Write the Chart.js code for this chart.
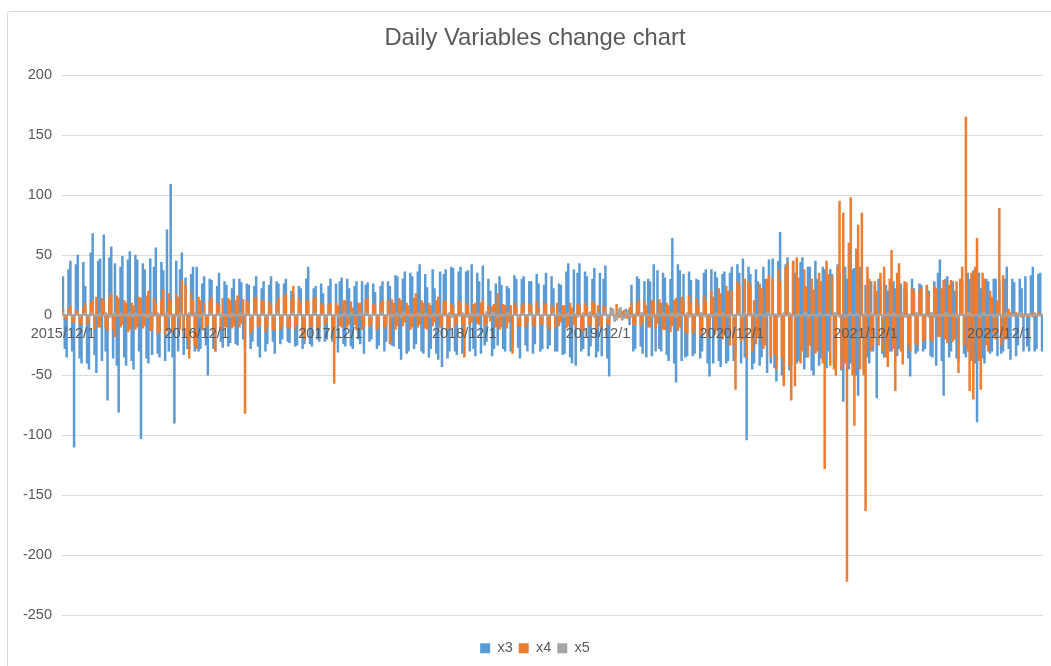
<!DOCTYPE html>
<html><head><meta charset="utf-8">
<script src="https://cdn.jsdelivr.net/npm/chart.js@4.4.1/dist/chart.umd.min.js"></script>
<style>
html,body{margin:0;padding:0;background:#fff;overflow:hidden;width:1051px;height:666px;}
#frame{position:absolute;left:7px;top:11px;width:1056px;height:700px;border:1px solid #d9d9d9;border-radius:3px;}
#c{position:absolute;left:0;top:0;}
</style></head><body>
<div id="frame"></div>
<canvas id="c" width="1071" height="666"></canvas>
<script>
// ---- categories: six sample dates per month (1,6,11,16,21,26), 2015/12 .. 2023/3 ----
const startYear = 2015, startMonth = 12, monthCount = 88;
const sampleDays = [1, 6, 11, 16, 21, 26];
const categories = [];
for (let k = 0; k < monthCount; k++) {
  const y = startYear + Math.floor((startMonth - 1 + k) / 12);
  const m = (startMonth - 1 + k) % 12 + 1;
  for (const d of sampleDays) categories.push(y + '/' + m + '/' + d);
}
const tickLabels = ['2015/12/1','2016/12/1','2017/12/1','2018/12/1','2019/12/1','2020/12/1','2021/12/1','2022/12/1'];
const yTicks = [200,150,100,50,0,-50,-100,-150,-200,-250];

// ===== x3 (blue) =====
// samples on days 1, 11, 21 — one block per Dec..Nov year
const x3_A_2015 = [32,-35,45,-110,50,-40,24,-45,68,-48,47,67,-71,57,43,-81,49,-42,53,-45,46,-103,38,-40,-33,56,-35,37,71,109,-90,-30,52,31,-28,40];
const x3_A_2016 = [40,-28,32,-50,29,-30,35,-27,25,-23,30,-25,27,-28,25,-22,32,-35,28,-24,32,-32,26,-20,30,-23,18,-25,22,-24,40,-26,24,-22,18,-20];
const x3_A_2017 = [30,-24,-31,31,-26,22,-28,28,-24,-32,27,-20,19,-25,28,-22,24,-26,32,-37,36,-30,32,-24,42,-32,23,-28,22,-37,-43,38,-30,39,-33,40];
const x3_A_2018 = [-34,37,42,-34,28,41,-22,20,-28,-25,25,-30,22,-26,30,-36,32,-30,28,-24,26,-28,35,-25,22,-30,25,-32,43,-40,-42,43,-28,32,-26,39];
const x3_A_2019 = [-30,-34,41,-51,5,-4,6,-3,4,25,-28,30,-32,-35,28,42,37,-30,31,-38,64,-56,37,34,-34,29,-32,29,-30,38,-51,-40,31,-43,36,-38];
const x3_A_2020 = [40,-30,35,47,-104,34,-40,28,-35,30,46,47,-55,69,-55,48,-42,35,-38,48,-35,40,-50,30,-36,38,-30,34,-38,35,-72,30,-40,39,-67,26];
const x3_A_2021 = [25,-40,-30,-69,25,-35,20,-30,22,-28,-25,20,-51,22,-30,25,-28,20,-35,-42,46,-67,32,-30,20,-38,28,-35,30,37,-89,22,-40,28,-30,30];
const x3_A_2022 = [28,-30,40,-37,27,-25,22,32,-30,40,-28,35];
// samples on days 6, 16, 26
const x3_B_2015 = [-28,38,-30,42,-36,44,-40,52,-33,45,-38,-30,48,-36,-42,40,-35,46,-38,50,-30,43,-36,47,40,-32,44,-38,-30,-35,45,38,-33,-28,34,-30];
const x3_B_2016 = [-30,26,-25,30,-28,24,-22,28,-26,22,-24,30,-20,26,-28,24,-26,22,-30,25,-22,28,-24,26,-22,20,-26,24,-28,30,-24,22,-20,26,-22,24];
const x3_B_2017 = [-22,26,28,-24,30,-26,24,-20,28,25,-22,26,-28,24,-30,28,-25,33,-28,30,-32,35,-28,36,-30,34,-35,38,-32,36,34,-36,40,-30,36,-32];
const x3_B_2018 = [36,-30,-28,35,-32,-25,30,-34,26,32,-28,24,-30,33,-27,30,-25,28,-32,34,-30,25,-28,32,-30,26,-33,36,-35,38,35,-30,36,-34,30,-35];
const x3_B_2019 = [35,30,-36,6,-5,3,-4,5,-8,-30,32,-26,28,30,-34,-30,-28,35,-33,30,-40,42,-38,-35,36,-34,30,-36,35,-40,38,36,-38,34,-40,35];
const x3_B_2020 = [-38,42,-40,-35,40,-45,38,-42,40,-48,-40,-44,45,-50,42,-46,45,-40,44,-45,40,-46,45,-42,40,-44,38,-40,42,-46,40,-45,38,-50,40,-45];
const x3_B_2021 = [-35,28,24,30,-32,25,-30,28,-34,26,22,-36,30,-32,26,-30,24,-34,28,35,-38,30,-35,28,-36,30,-32,35,-38,-40,35,-36,30,-32,30,-34];
const x3_B_2022 = [-32,30,-28,30,-34,30,-30,-26,33,-30,34,-30];

// ===== x4 (orange) =====
const x4_A_2015 = [5,-4,8,-6,3,-8,10,-5,12,15,-10,12,-13,18,-18,14,-8,10,-12,8,-10,14,-9,20,-12,9,-14,21,-13,12,-10,15,29,25,-36,12];
const x4_A_2016 = [-28,12,10,-8,15,-30,8,14,-10,12,-9,16,-7,-82,10,-12,15,-8,12,-10,8,-13,14,-9,18,-11,24,-8,10,-21,12,-9,15,-10,8,-6];
const x4_A_2017 = [10,-57,8,-10,12,-8,6,-12,10,-9,14,-7,8,-10,12,-8,-24,10,-9,12,-6,8,-10,18,-8,10,-12,8,-6,15,-9,12,-10,8,-7,10];
const x4_A_2018 = [-35,8,-6,10,-8,12,-7,-5,9,18,-10,8,-6,-32,7,-9,10,-6,8,-10,6,-8,9,-12,7,10,-6,8,-9,6,-10,8,-14,7,-8,10];
const x4_A_2019 = [8,-10,6,-8,3,9,-2,4,-3,10,-8,12,-6,8,-10,12,-7,10,-12,8,-9,14,-10,12,-15,10,-12,8,-14,12,-10,15,-12,18,-16,20];
const x4_A_2020 = [20,-62,25,-20,-35,25,12,-18,22,-25,33,30,-45,28,-59,44,-71,-59,31,-30,24,-25,21,-30,28,-128,34,32,-50,95,85,-222,98,-92,75,85];
const x4_A_2021 = [-163,30,-25,20,35,40,-43,54,-63,43,-41,27,-30,20,-25,22,-20,18,-22,22,-18,29,-23,29,-20,-48,40,165,-63,-70,64,-62,30,-30,15,-20];
const x4_A_2022 = [89,33,-20,2,-1,1,-2,1,-1,2,-1,1];
const x4_B_2015 = [-3,5,-6,4,-7,6,-8,10,-12,-10,14,-11,15,-12,16,-10,12,-14,10,-12,15,-11,16,-13,14,-15,12,-16,18,-14,17,-12,-15,-20,18,-25];
const x4_B_2016 = [15,-12,-10,12,-14,10,-12,-10,14,-11,12,-10,13,12,-15,14,-10,12,-14,11,-12,10,-12,15,-10,13,-12,14,-16,12,-10,14,-12,10,-8,9];
const x4_B_2017 = [-12,10,-9,12,-10,11,-8,10,-12,13,-10,9,-12,10,-11,12,13,-12,14,-9,10,-12,14,-10,12,-11,10,-9,12,-10,11,-12,9,-10,12,-8];
const x4_B_2018 = [10,-8,9,-7,10,-9,8,7,-10,-12,9,-11,8,10,-9,8,-10,9,-8,11,-7,10,-9,8,-10,-9,8,-11,10,-8,9,-12,10,-9,11,-12];
const x4_B_2019 = [-9,8,-7,5,-3,-2,3,-2,6,-8,10,-9,11,-10,12,-11,13,-12,10,-14,12,-13,15,-14,16,-15,14,-17,16,-18,20,-16,22,-20,24,-25];
const x4_B_2020 = [-25,28,-22,30,28,-30,-24,26,-28,30,-35,-32,38,-35,40,-42,45,48,-40,38,-35,30,-32,35,-40,45,-42,-45,40,-45,-40,60,-50,55,-45,-50];
const x4_B_2021 = [40,-30,28,-25,-30,-35,30,-28,35,-30,28,-25,22,-24,20,-22,25,-20,24,-18,22,-20,25,-22,28,30,-25,-30,35,40,-38,35,-25,20,-15,12];
const x4_B_2022 = [-25,-20,5,-1,2,-1,1,-2,1,-1,2,-1];

// ===== x5 (grey) =====
const x5_A_2015 = [2,-1,1,-2,1,-1,2,-2,1,-1,2,-1,1,-2,2,-1,1,-1,2,-2,1,-1,1,-2,2,-1,1,-1,2,-1,1,-2,1,-1,2,-1];
const x5_A_2016 = [1,-2,2,-1,1,-1,2,-1,1,-2,1,-1,2,-1,1,-1,2,-2,1,-1,1,-2,2,-1,1,-1,2,-1,1,-2,1,-1,2,-1,1,-2];
const x5_A_2017 = [2,-1,1,-1,3,-2,1,-1,2,-1,1,-2,1,-1,2,-1,1,-1,2,-2,3,-1,1,-1,2,-1,1,-2,2,-1,1,-1,2,-2,1,-1];
const x5_A_2018 = [1,-2,2,-1,1,-1,3,-1,2,-2,1,-1,2,-1,1,-2,2,-1,1,-1,3,-2,1,-1,2,-1,1,-2,2,-1,1,-1,2,-1,3,-2];
const x5_A_2019 = [2,-1,3,-2,5,-4,6,-3,4,-2,1,-1,2,-1,1,-2,2,-1,1,-1,2,-2,1,-1,2,-1,1,-1,2,-2,1,-1,2,-1,1,-2];
const x5_A_2020 = [1,-1,2,-2,1,-1,2,-1,1,-2,2,-1,1,-1,2,-1,1,-2,1,-1,2,-1,1,-2,2,-1,1,-1,2,-2,1,-1,2,-1,1,-1];
const x5_A_2021 = [2,-1,1,-2,1,-1,2,-1,1,-1,2,-2,1,-1,2,-1,1,-2,2,-1,1,-1,2,-1,1,-2,1,-1,2,-1,1,-2,2,-1,1,-1];
const x5_A_2022 = [1,-2,2,-1,1,-1,2,-1,1,-2,1,-1];
const x5_B_2015 = [-1,2,-1,1,-2,1,-1,2,-1,1,-1,2,-2,1,-1,2,-1,1,-1,2,-1,1,-2,1,-1,2,-1,1,-2,1,-1,2,-1,1,-1,2];
const x5_B_2016 = [-2,1,-1,2,-1,1,-2,1,-1,2,-1,1,-1,2,-2,1,-1,1,-2,1,-1,2,-1,1,-2,1,-1,2,-1,1,-1,2,-1,1,-2,1];
const x5_B_2017 = [-1,1,-2,1,-1,2,-1,1,-1,2,-2,1,-1,2,-1,1,-2,1,-1,2,-1,1,-1,2,-1,2,-1,1,-1,2,-1,1,-2,1,-1,2];
const x5_B_2018 = [-2,1,-1,2,-1,1,-2,2,-1,1,-1,2,-1,1,-2,1,-1,2,-2,1,-1,1,-2,1,-1,2,-1,1,-1,2,-2,1,-1,2,-1,1];
const x5_B_2019 = [-1,2,-3,4,-5,5,-4,3,-2,1,-1,2,-1,1,-2,1,-1,2,-1,1,-1,2,-1,1,-2,1,-1,2,-1,1,-2,1,-1,2,-1,1];
const x5_B_2020 = [-2,1,-1,2,-1,1,-2,1,-1,2,-1,1,-2,1,-1,2,-1,1,-1,2,-2,1,-1,2,-1,1,-1,2,-1,1,-2,1,-1,2,-1,1];
const x5_B_2021 = [-1,2,-1,1,-2,1,-1,2,-1,1,-2,1,-1,2,-1,1,-1,2,-2,1,-1,2,-1,1,-2,1,-1,2,-1,1,-1,2,-1,1,-2,1];
const x5_B_2022 = [-1,1,-2,1,-1,2,-1,1,-1,2,-1,1];

// interleave day-1/11/21 samples with day-6/16/26 samples (date order)
function interleave(a, b) { const out = []; for (let i = 0; i < a.length; i++) { out.push(a[i], b[i]); } return out; }
const x3 = interleave([].concat(x3_A_2015,x3_A_2016,x3_A_2017,x3_A_2018,x3_A_2019,x3_A_2020,x3_A_2021,x3_A_2022),
                      [].concat(x3_B_2015,x3_B_2016,x3_B_2017,x3_B_2018,x3_B_2019,x3_B_2020,x3_B_2021,x3_B_2022));
const x4 = interleave([].concat(x4_A_2015,x4_A_2016,x4_A_2017,x4_A_2018,x4_A_2019,x4_A_2020,x4_A_2021,x4_A_2022),
                      [].concat(x4_B_2015,x4_B_2016,x4_B_2017,x4_B_2018,x4_B_2019,x4_B_2020,x4_B_2021,x4_B_2022));
const x5 = interleave([].concat(x5_A_2015,x5_A_2016,x5_A_2017,x5_A_2018,x5_A_2019,x5_A_2020,x5_A_2021,x5_A_2022),
                      [].concat(x5_B_2015,x5_B_2016,x5_B_2017,x5_B_2018,x5_B_2019,x5_B_2020,x5_B_2021,x5_B_2022));

const FONT = '"Liberation Sans", Arial, Helvetica, sans-serif';
const TXT = '#595959';

new Chart(document.getElementById('c'), {
  type: 'bar',
  data: {
    labels: categories,
    datasets: [
      {label:'x3', data:x3, backgroundColor:'#5b9bd5', order:3, grouped:false, barPercentage:1, categoryPercentage:1, xAxisID:'x', yAxisID:'y'},
      {label:'x4', data:x4, backgroundColor:'#ed7d31', order:2, grouped:false, barPercentage:1, categoryPercentage:1, xAxisID:'x', yAxisID:'y'},
      {label:'x5', data:x5, backgroundColor:'#a5a5a5', order:1, grouped:false, barPercentage:1, categoryPercentage:1, xAxisID:'x', yAxisID:'y'}
    ]
  },
  options: {
    responsive:false, animation:false, devicePixelRatio:1, events:[],
    layout:{padding:{left:7, right:8, top:10, bottom:0.5}},
    plugins:{
      tooltip:{enabled:false},
      title:{display:true, text:'Daily Variables change chart', color:TXT,
             font:{family:FONT, size:23.8, weight:'normal'}, padding:{top:14, bottom:22.6}},
      legend:{position:'bottom',
        labels:{boxWidth:10, boxHeight:10, padding:6, color:TXT, font:{family:FONT, size:14.5},
                sort:(a,b)=>a.datasetIndex-b.datasetIndex}}
    },
    scales:{
      x:{type:'category', position:{y:0}, offset:true,
         grid:{display:false, drawTicks:false}, border:{display:false},
         ticks:{autoSkip:false, maxRotation:0, minRotation:0, padding:10, z:1, color:TXT,
                font:{family:FONT, size:14.5},
                callback(v){ const l = this.getLabelForValue(v); return tickLabels.includes(l) ? l : ''; }}},
      xPad:{type:'category', position:'bottom', grid:{display:false, drawTicks:false}, border:{display:false},
            ticks:{display:false}, afterFit(s){ s.height = 20; }},
      y:{type:'linear', position:'left', min:yTicks[yTicks.length-1], max:yTicks[0],
         afterBuildTicks(s){ s.ticks = yTicks.map(v=>({value:v})); },
         ticks:{padding:10, color:TXT, font:{family:FONT, size:14.5}},
         grid:{drawTicks:false, color:c => (c.tick && c.tick.value === 0) ? '#b0b0b0' : '#d9d9d9',
               lineWidth:c => (c.tick && c.tick.value === 0) ? 2 : 1},
         border:{display:false},
         afterFit(s){ s.width = 55; }},
      yPad:{type:'linear', position:'right', grid:{display:false, drawTicks:false}, border:{display:false},
            ticks:{display:false}, afterFit(s){ s.width = 20; }}
    }
  }
});
</script></body></html>
